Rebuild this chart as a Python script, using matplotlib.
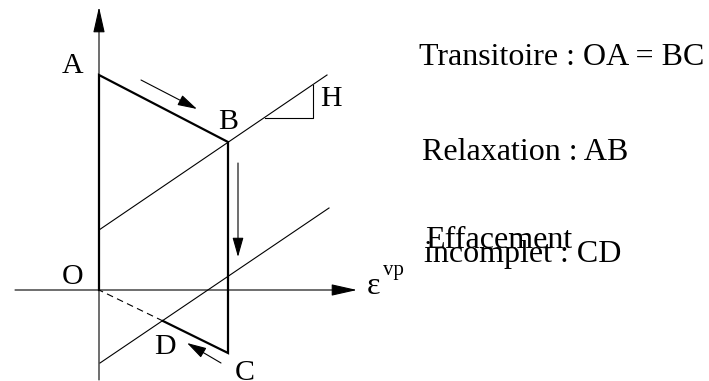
import matplotlib
matplotlib.use("Agg")
import matplotlib.pyplot as plt
from matplotlib.patches import FancyArrowPatch, ArrowStyle

plt.rcParams['font.family'] = ['Liberation Serif', 'DejaVu Serif']

# Cycle points in the (eps_vp, sigma) plane, origin at O
point_names = ["O", "A", "B", "C", "D"]
point_x = [0, 0, 129, 129, 64]
point_y = [0, 215, 148, -63, -31]

# Two parallel hardening lines of slope H
upper_line_x = [0, 228]
upper_line_y = [60, 215]
lower_line_x = [1, 230]
lower_line_y = [-73, 82]

# Slope triangle marking H
slope_tri_x = [166, 214, 214]
slope_tri_y = [172, 172, 205]

# Direction arrows (tail -> head)
arrow_tails = [(42, 210), (139, 127), (122, -73)]
arrow_heads = [(98, 181), (139, 33), (88, -53)]

# Axis extents
x_axis = (-84, 258)
y_axis = (-90, 283)

# Point label positions
label_pos = {"A": (-26, 224), "B": (129, 168), "H": (232, 191),
             "O": (-26, 13), "D": (66, -57), "C": (146, -83)}

notes = ["Transitoire : OA = BC", "Relaxation : AB", "Effacement", "incomplet : CD"]
notes_x = [320, 323, 326, 325]
notes_y = [225, 130, 42, 28]

fig = plt.figure(figsize=(7.09, 3.81), dpi=100)
ax = fig.add_axes([0, 0, 1, 1])
ax.set_xlim(-99, 610)
ax.set_ylim(-91, 290)
ax.axis("off")

P = dict(zip(point_names, zip(point_x, point_y)))
thin = 0.8
thick = 1.6

# axes with arrow heads
axis_style = ArrowStyle('-|>', head_length=16, head_width=3.6)
ax.add_patch(FancyArrowPatch((x_axis[0], 0), (x_axis[1], 0), arrowstyle=axis_style,
                             mutation_scale=1, lw=thin, color="black",
                             shrinkA=0, shrinkB=0))
ax.add_patch(FancyArrowPatch((0, y_axis[0]), (0, y_axis[1]), arrowstyle=axis_style,
                             mutation_scale=1, lw=thin, color="black",
                             shrinkA=0, shrinkB=0))

# hardening lines and slope triangle
ax.plot(upper_line_x, upper_line_y, color="black", lw=thin)
ax.plot(lower_line_x, lower_line_y, color="black", lw=thin)
ax.plot(slope_tri_x, slope_tri_y, color="black", lw=thin)

# cycle path O-A-B-C-D (thick) and D-O (dashed)
path = ["O", "A", "B", "C", "D"]
ax.plot([P[k][0] for k in path], [P[k][1] for k in path], color="black",
        lw=thick, solid_joinstyle="miter")
ax.plot([P["D"][0], P["O"][0]], [P["D"][1], P["O"][1]], color="black",
        lw=thin, ls=(0, (6, 4)))

# direction arrows
dir_style = ArrowStyle('-|>', head_length=12, head_width=3.4)
for t, h in zip(arrow_tails, arrow_heads):
    ax.add_patch(FancyArrowPatch(t, h, arrowstyle=dir_style, mutation_scale=1,
                                 lw=thin, color="black", shrinkA=0, shrinkB=0))

# labels
for name, (lx, ly) in label_pos.items():
    ax.text(lx, ly, name, fontsize=21.5, ha="center", va="center")

# axis label eps^vp
ax.text(268, -4, "ε", fontsize=23, ha="left", va="baseline")
ax.text(284, 15, "vp", fontsize=15, ha="left", va="baseline")

# notes
for s, nx, ny in zip(notes, notes_x, notes_y):
    ax.text(nx, ny, s, fontsize=23, ha="left", va="baseline")

fig.savefig("out.png", dpi=100)
